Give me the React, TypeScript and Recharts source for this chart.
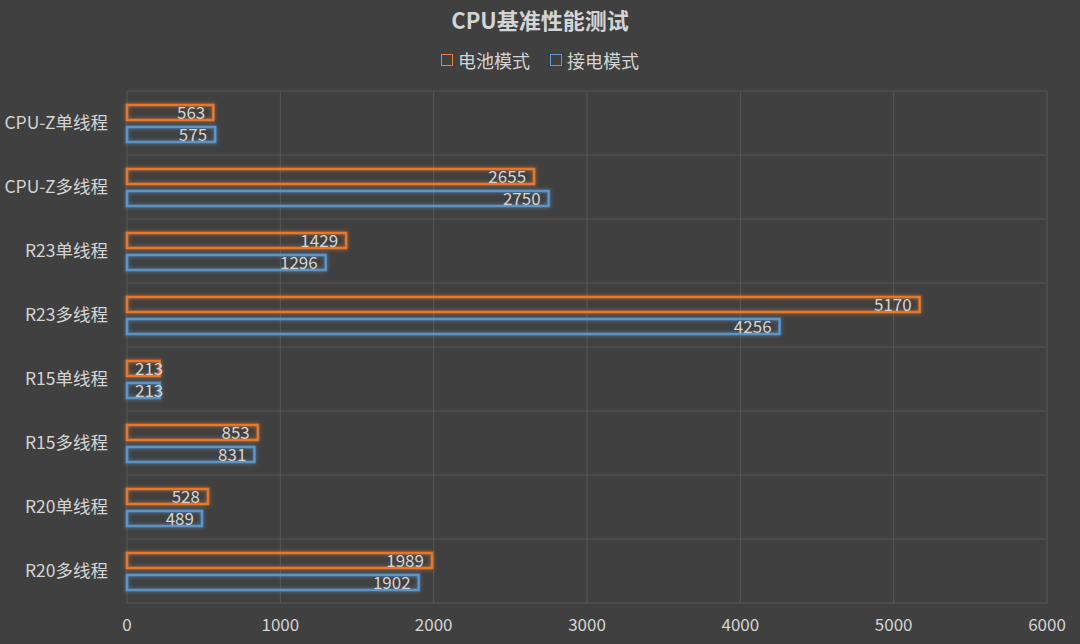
import React from "react";
import { BarChart, Bar, XAxis, YAxis, CartesianGrid, LabelList } from "recharts";

const categories = ["CPU-Z单线程", "CPU-Z多线程", "R23单线程", "R23多线程", "R15单线程", "R15多线程", "R20单线程", "R20多线程"];
const batteryValues = [563, 2655, 1429, 5170, 213, 853, 528, 1989];
const pluggedValues = [575, 2750, 1296, 4256, 213, 831, 489, 1902];
const xTicks = [0, 1000, 2000, 3000, 4000, 5000, 6000];
const seriesNames = ["电池模式", "接电模式"];
const title = "CPU基准性能测试";

const ORANGE = "#ED7D31";
const BLUE = "#5B9BD5";
const BG = "#404040";
const TEXT = "#D4D4D4";
const FONT = "'Noto Sans CJK SC', 'Noto Sans', sans-serif";

const data = categories.map((c, i) => ({ name: c, battery: batteryValues[i], plugged: pluggedValues[i] }));

const makeShape = (color: string, id: string) => (props: any) => {
  const { x, y, width, height } = props;
  if (width == null || height == null) return null;
  return (
    <g>
      <defs>
        <filter id={id} x="-20%" y="-100%" width="140%" height="300%">
          <feGaussianBlur in="SourceGraphic" stdDeviation="2" result="b" />
          <feMerge>
            <feMergeNode in="b" />
            <feMergeNode in="SourceGraphic" />
          </feMerge>
        </filter>
      </defs>
      <rect x={x} y={y} width={width} height={height} fill="none" stroke={color} strokeOpacity={0.55} strokeWidth={3} filter={`url(#${id})`} />
      <rect x={x} y={y} width={width} height={height} fill="none" stroke={color} strokeWidth={1.6} />
    </g>
  );
};

const renderLabel = (props: any) => {
  const { x, y, width, height, value } = props;
  const textW = String(value).length * 9.4;
  const fits = width >= textW + 16;
  const tx = fits ? x + width - 8 : x + 8;
  return (
    <text
      x={tx}
      y={y + height / 2}
      dy="0.36em"
      textAnchor={fits ? "end" : "start"}
      fill={TEXT}
      fontSize={17}
      fontFamily={FONT}
    >
      {value}
    </text>
  );
};

const legendItems = [
  { name: seriesNames[0], color: ORANGE },
  { name: seriesNames[1], color: BLUE },
];

export default function App() {
  return (
    <div style={{ position: "absolute", left: 0, top: 0, width: 1080, height: 644, background: BG, overflow: "hidden" }}>
      <div
        style={{
          position: "absolute",
          top: 5,
          left: 0,
          width: 1080,
          textAlign: "center",
          fontFamily: FONT,
          fontWeight: 700,
          fontSize: 22,
          color: TEXT,
          lineHeight: "28px",
        }}
      >
        {title}
      </div>
      <div
        style={{
          position: "absolute",
          top: 47,
          left: 0,
          width: 1080,
          height: 26,
          display: "flex",
          justifyContent: "center",
          alignItems: "center",
          fontFamily: FONT,
          fontSize: 18,
          color: TEXT,
        }}
      >
        {legendItems.map((it, i) => (
          <div key={i} style={{ display: "flex", alignItems: "center", marginLeft: i === 0 ? 0 : 20 }}>
            <span style={{ display: "inline-block", width: 10, height: 10, border: `1.5px solid ${it.color}`, marginRight: 5 }} />
            <span>{it.name}</span>
          </div>
        ))}
      </div>
      <div style={{ position: "absolute", left: 0, top: 0 }}>
        <BarChart
          width={1080}
          height={644}
          data={data}
          layout="vertical"
          margin={{ top: 91, right: 33, bottom: 0, left: 0 }}
          barSize={15}
          barGap={7}
        >
          <CartesianGrid
            stroke="#575757"
            horizontalCoordinatesGenerator={({ offset }: any) =>
              categories.map((_, i) => offset.top + (offset.height / categories.length) * i)
            }
          />
          <XAxis
            type="number"
            domain={[0, 6000]}
            ticks={xTicks}
            interval={0}
            height={41}
            axisLine={{ stroke: "#5a5a5a" }}
            tickLine={false}
            tickMargin={10}
            tick={{ fill: TEXT, fontSize: 17, fontFamily: FONT }}
          />
          <YAxis
            type="category"
            dataKey="name"
            width={127}
            axisLine={false}
            tickLine={false}
            tickSize={0}
            tickMargin={19}
            interval={0}
            tick={{ fill: TEXT, fontSize: 17.5, fontFamily: FONT }}
          />
          <Bar dataKey="battery" name={seriesNames[0]} isAnimationActive={false} shape={makeShape(ORANGE, "glowO")}>
            <LabelList dataKey="battery" content={renderLabel} />
          </Bar>
          <Bar dataKey="plugged" name={seriesNames[1]} isAnimationActive={false} shape={makeShape(BLUE, "glowB")}>
            <LabelList dataKey="plugged" content={renderLabel} />
          </Bar>
        </BarChart>
      </div>
    </div>
  );
}
